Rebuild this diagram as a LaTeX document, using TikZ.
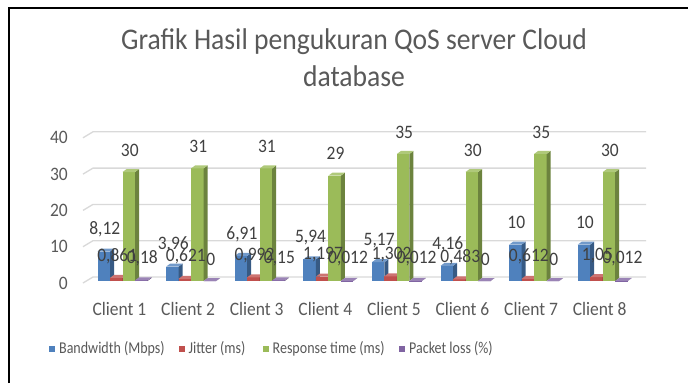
\documentclass[tikz,border=0pt]{standalone}
\usepackage{fontspec}
\setmainfont{Carlito}[FakeStretch=0.92]
\newfontfamily\legendfont{Carlito}[FakeStretch=0.85]
\usepackage{tikz}
\usetikzlibrary{positioning}
\definecolor{qsblue}{RGB}{79,129,189}
\definecolor{qsred}{RGB}{192,80,77}
\definecolor{qsgreen}{RGB}{155,187,89}
\definecolor{qspurple}{RGB}{128,100,162}
\definecolor{qsgrid}{RGB}{217,217,217}
\definecolor{qstext}{RGB}{89,89,89}
\definecolor{qslabel}{RGB}{64,64,64}
\tikzstyle{gridline} = [draw=qsgrid, line width=1.3pt]
\tikzstyle{titlelabel} = [anchor=base, inner sep=0pt, text=qstext, font=\fontsize{30}{36}\selectfont]
\tikzstyle{ticklabel} = [anchor=east, inner sep=0pt, text=qstext, font=\fontsize{19}{19}\selectfont]
\tikzstyle{clientlabel} = [inner sep=0pt, text=qstext, font=\fontsize{19}{19}\selectfont]
\tikzstyle{datalabel} = [inner sep=0pt, text=qslabel, font=\fontsize{19}{19}\selectfont]
\tikzstyle{legendkey} = [rectangle, minimum size=6.5pt, inner sep=0pt]
\tikzstyle{legendtext} = [anchor=west, inner sep=0pt, text=qstext, font=\legendfont\fontsize{16.5}{17}\selectfont]

% one 3D column: #1 left x, #2 value, #3 colour
\newcommand{\qosbar}[3]{%
  \fill[#3] (#1,281) rectangle ++(12.5,{-3.63*#2});
  \fill[#3!70!black] (#1+12.5,281) -- ++(4,-3) -- ++(0,{-3.63*#2}) -- ++(-4,3) -- cycle;
  \fill[#3!80!white] (#1,{281-3.63*#2}) -- ++(12.5,0) -- ++(4,-3) -- ++(-12.5,0) -- cycle;
}
% one client: #1 index, then value/label of bandwidth, jitter, response time, packet loss
\newcommand{\qosgroup}[9]{%
  \pgfmathsetmacro{\gx}{119.5+68.6*(#1-1)}
  \qosbar{\gx-22}{#2}{qsblue}
  \qosbar{\gx-9.5}{#4}{qsred}
  \qosbar{\gx+3}{#6}{qsgreen}
  \qosbar{\gx+15.5}{#8}{qspurple}
  \node[datalabel] (bw#1) at ({\gx-14.75},{259-3.63*#2}) {#3};
  \node[datalabel] (jit#1) at ({\gx-2.25},{259-3.63*#4}) {#5};
  \node[datalabel] (rt#1) at ({\gx+10.25},{259-3.63*#6}) {#7};
  \node[datalabel] (pl#1) at ({\gx+22.75},{259-3.63*#8}) {#9};
  \node[clientlabel] (client#1) at (\gx,309) {Client #1};
}

\begin{document}
\begin{tikzpicture}[x=1pt, y=-1pt]
\useasboundingbox (0,0) rectangle (688,383);

% Frame
\draw[line width=2.5pt] (9,383) -- (9,8) -- (688,8);

% Title
\node[titlelabel] (title1) at (354,49.3) {Grafik Hasil pengukuran QoS server Cloud};
\node[titlelabel] (title2) at (354,86.5) {database};

% Gridlines
\draw[gridline] (83,283) -- (93,277) -- (646,277);
\draw[gridline] (83,246.7) -- (93,240.7) -- (646,240.7);
\draw[gridline] (83,210.4) -- (93,204.4) -- (646,204.4);
\draw[gridline] (83,174.1) -- (93,168.1) -- (646,168.1);
\draw[gridline] (83,137.8) -- (93,131.8) -- (646,131.8);

% Value axis
\node[ticklabel] (tick0) at (68,283) {0};
\node[ticklabel] (tick10) at (68,246.7) {10};
\node[ticklabel] (tick20) at (68,210.4) {20};
\node[ticklabel] (tick30) at (68,174.1) {30};
\node[ticklabel] (tick40) at (68,137.8) {40};

% Columns
\qosgroup{1}{8.12}{8,12}{0.861}{0,861}{30}{30}{0.18}{0,18}
\qosgroup{2}{3.96}{3,96}{0.621}{0,621}{31}{31}{0}{0}
\qosgroup{3}{6.91}{6,91}{0.992}{0,992}{31}{31}{0.15}{0,15}
\qosgroup{4}{5.94}{5,94}{1.197}{1,197}{29}{29}{0.012}{0,012}
\qosgroup{5}{5.17}{5,17}{1.302}{1,302}{35}{35}{0.012}{0,012}
\qosgroup{6}{4.16}{4,16}{0.483}{0,483}{30}{30}{0}{0}
\qosgroup{7}{10}{10}{0.612}{0,612}{35}{35}{0}{0}
\qosgroup{8}{10}{10}{1.05}{1,05}{30}{30}{0.012}{0,012}

% Legend
\node[legendkey, fill=qsblue] (keybw) at (52,349) {};
\node[legendtext, right=3.5pt of keybw] (txtbw) {Bandwidth (Mbps)};
\node[legendkey, fill=qsred] (keyjit) at (182,349) {};
\node[legendtext, right=3pt of keyjit] (txtjit) {Jitter (ms)};
\node[legendkey, fill=qsgreen] (keyrt) at (266,349) {};
\node[legendtext, right=3pt of keyrt] (txtrt) {Response time (ms)};
\node[legendkey, fill=qspurple] (keypl) at (402,349) {};
\node[legendtext, right=3.5pt of keypl] (txtpl) {Packet loss (\%)};
\end{tikzpicture}
\end{document}
